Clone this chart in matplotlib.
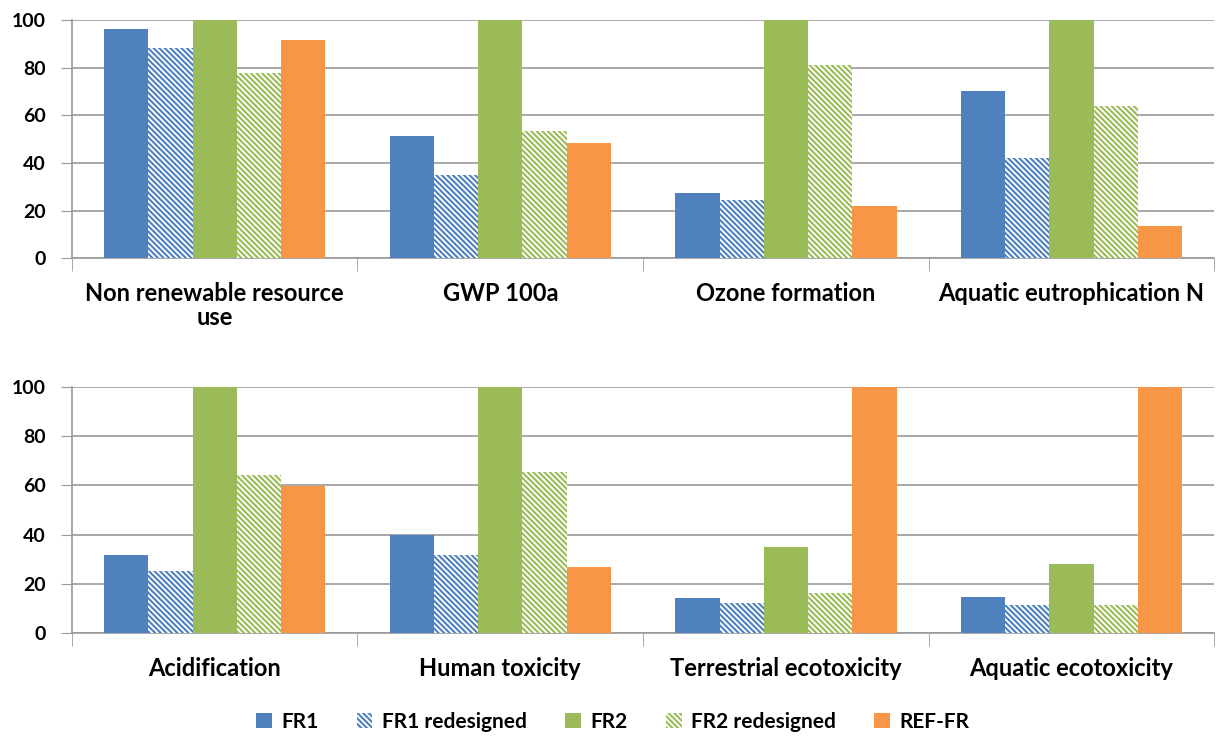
import matplotlib.pyplot as plt
import numpy as np

plt.rcParams['font.family'] = ['Lato', 'DejaVu Sans']
plt.rcParams['hatch.linewidth'] = 1.5

series = ['FR1', 'FR1 redesigned', 'FR2', 'FR2 redesigned', 'REF-FR']
colors = ['#4F81BD', '#4F81BD', '#9BBB59', '#9BBB59', '#F79646']
hatches = [None, '\\' * 6, None, '\\' * 6, None]

cats_top = ['Non renewable resource\nuse', 'GWP 100a', 'Ozone formation', 'Aquatic eutrophication N']
cats_bot = ['Acidification', 'Human toxicity', 'Terrestrial ecotoxicity', 'Aquatic ecotoxicity']

fr1 = [96.1, 51.2, 27.5, 70.1, 31.8, 39.9, 14.2, 14.7]
fr1_re = [88.4, 35.1, 24.3, 41.9, 25.1, 31.8, 12.1, 11.6]
fr2 = [100, 100, 100, 100, 100, 100, 35.0, 28.2]
fr2_re = [77.7, 53.3, 80.9, 64.1, 64.1, 65.2, 16.3, 11.6]
ref_fr = [91.6, 48.5, 22.0, 13.5, 59.6, 26.7, 100, 100]
values = [fr1, fr1_re, fr2, fr2_re, ref_fr]

fig = plt.figure(figsize=(12.18, 7.38), dpi=100)
ax1 = fig.add_axes([0.059, 0.650, 0.938, 0.323])
ax2 = fig.add_axes([0.059, 0.142, 0.938, 0.334])

grid_c = '#9a9a9a'
bw = 0.155
x = np.arange(4)
handles = []
for ax, cats, sl in [(ax1, cats_top, slice(0, 4)), (ax2, cats_bot, slice(4, 8))]:
    for i, (name, vals) in enumerate(zip(series, values)):
        off = (i - 2) * bw
        if hatches[i]:
            b = ax.bar(x + off, vals[sl], bw, facecolor='white', edgecolor=colors[i],
                       hatch=hatches[i], linewidth=0, label=name, zorder=3)
        else:
            b = ax.bar(x + off, vals[sl], bw, color=colors[i], linewidth=0, label=name, zorder=3)
        if ax is ax1:
            handles.append(b)
    ax.set_xlim(-0.5, 3.5)
    ax.set_ylim(0, 100)
    ax.set_yticks(range(0, 101, 20))
    ax.set_xticks(x)
    ax.set_xticklabels(cats, fontsize=17, fontweight='bold', linespacing=1.05)
    ax.set_xticks(np.arange(-0.5, 4, 1), minor=True)
    ax.tick_params(axis='x', which='major', length=0, pad=17)
    ax.tick_params(axis='x', which='minor', length=9, color=grid_c, direction='out')
    ax.tick_params(axis='y', length=8, color=grid_c, pad=11, labelsize=14)
    for lab in ax.get_yticklabels():
        lab.set_fontweight('bold')
    ax.grid(axis='y', color=grid_c, linewidth=1.2, zorder=0)
    ax.set_axisbelow(True)
    for s in ['top', 'right']:
        ax.spines[s].set_visible(False)
    for s in ['left', 'bottom']:
        ax.spines[s].set_color(grid_c)
        ax.spines[s].set_linewidth(1.2)

leg = fig.legend(handles, series, loc='center', bbox_to_anchor=(0.503, 0.022), ncol=5,
                 frameon=False, prop={'size': 15, 'weight': 'bold'}, handlelength=0.75,
                 handleheight=0.75, columnspacing=1.85, handletextpad=0.45)

fig.savefig('out.png', dpi=100)
